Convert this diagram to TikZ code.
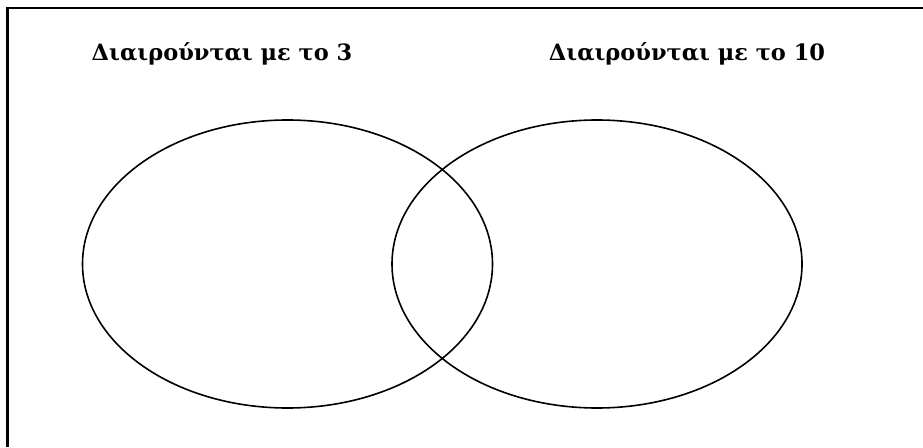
\documentclass[tikz,border=0pt]{standalone}
\usepackage{fontspec}
\setmainfont{DejaVu Serif}
\usetikzlibrary{shapes.geometric}
\begin{document}
\begin{tikzpicture}[x=1pt,y=-1pt,
  setshape/.style={draw, ellipse, line width=1.6pt, minimum width=410pt, minimum height=288pt, inner sep=0pt},
  title/.style={font=\bfseries\fontsize{22.5}{26}\selectfont, inner sep=0pt, anchor=base}]
\useasboundingbox (0,0) rectangle (923,447);
\draw[line width=2.4pt] (7.5,447) -- (7.5,8) -- (923,8);
\node[setshape] (A) at (287.5,264) {};
\node[setshape] (B) at (597,264) {};
\node[title] (tA) at (222,60) {Διαιρούνται με το 3};
\node[title] (tB) at (687,60) {Διαιρούνται με το 10};
\end{tikzpicture}
\end{document}
